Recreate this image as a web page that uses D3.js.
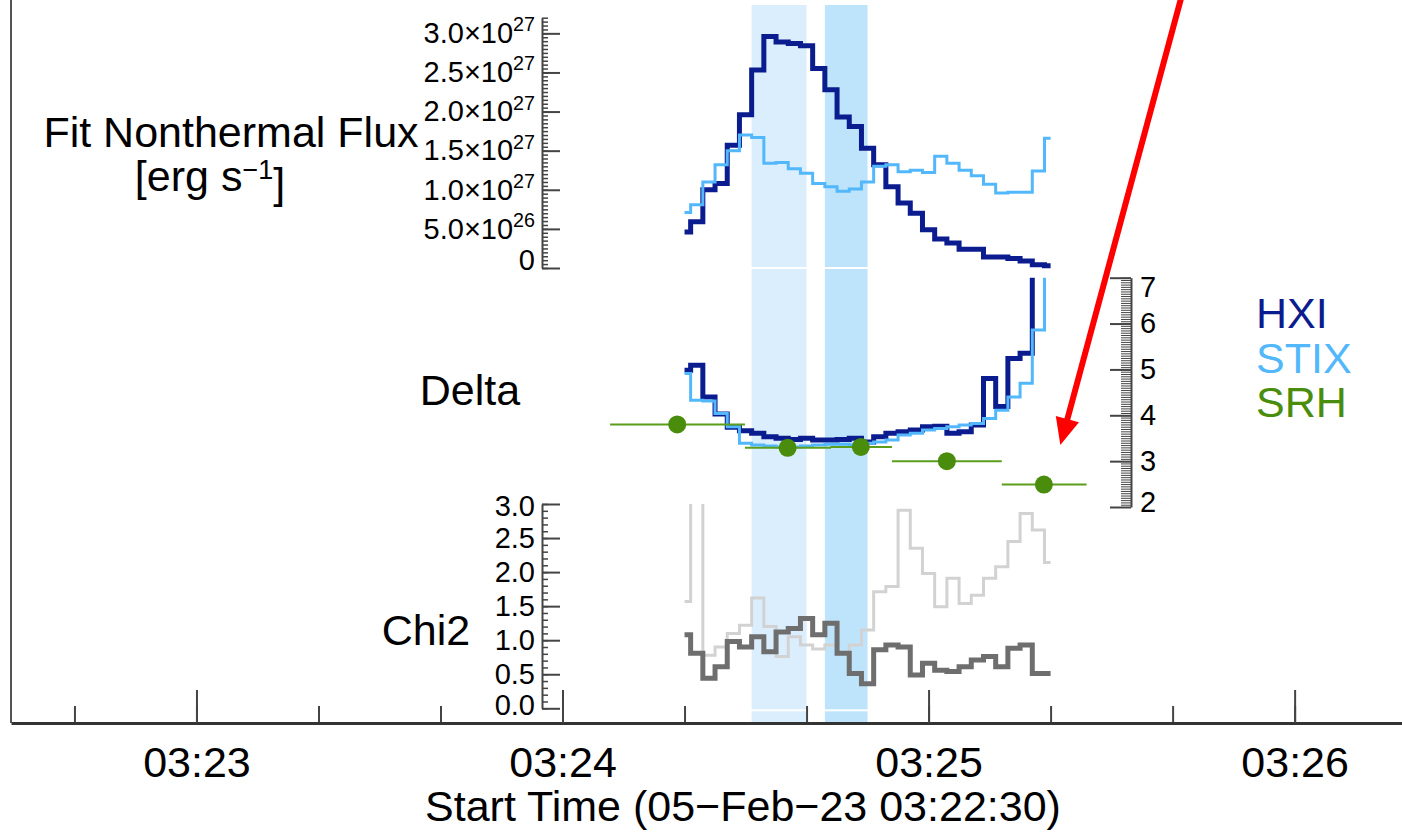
<!DOCTYPE html>
<html><head><meta charset="utf-8">
<script src="https://cdn.jsdelivr.net/npm/d3@7"></script>
<style>
html,body{margin:0;padding:0;background:#fff;}
svg{display:block;font-family:"Liberation Sans",Arial,Helvetica,sans-serif;}
</style></head><body>
<svg id="chart" width="1402" height="832"></svg>
<script>
// ---------------- data ----------------
const startTime = Date.UTC(2023, 1, 5, 3, 22, 30);          // 05-Feb-23 03:22:30
const xTitle = "Start Time (05\u2212Feb\u221223 03:22:30)";
// bin times, seconds after start
const binSec = [110,112,114,116,118,120,122,124,126,128,130,132,134,136,138,140,
                142,144,146,148,150,152,154,156,158,160,162,164,166,168,170];
// nonthermal flux, units of 1e27 erg/s
const hxiFlux  = [0.46,0.59,1.00,1.08,1.57,1.96,2.53,2.96,2.89,2.87,2.84,2.55,2.28,1.93,1.81,
                  1.53,1.32,1.04,0.83,0.70,0.49,0.37,0.32,0.24,0.24,0.14,0.14,0.12,0.09,0.04,0.03];
const stixFlux = [0.71,0.81,1.10,1.32,1.50,1.70,1.67,1.34,1.35,1.27,1.21,1.08,1.04,0.98,1.01,
                  1.10,1.30,1.32,1.23,1.25,1.22,1.43,1.34,1.25,1.18,1.07,0.96,0.97,0.97,1.24,1.66];
// spectral index delta
const hxiDelta  = [4.98,5.09,4.40,4.03,3.74,3.66,3.61,3.53,3.50,3.47,3.50,3.46,3.46,3.47,3.50,
                   3.42,3.53,3.61,3.64,3.68,3.75,3.76,3.61,3.64,3.79,4.80,4.19,5.24,5.35,7.60,7.80];
const stixDelta = [4.91,4.33,4.31,4.04,3.75,3.39,3.35,3.33,3.31,3.31,3.33,3.35,3.37,3.37,3.35,
                   3.39,3.42,3.46,3.57,3.61,3.68,3.71,3.75,3.79,3.82,3.93,4.11,4.40,4.70,5.86,7.80];
// chi2
const hxiChi  = [1.08,0.81,0.44,0.61,0.98,0.90,1.05,0.83,1.12,1.17,1.32,1.08,1.25,0.81,0.51,
                 0.36,0.86,0.93,0.90,0.49,0.66,0.56,0.54,0.61,0.71,0.76,0.61,0.88,0.93,0.51,0.51];
const stixChi = [1.57,3.50,0.78,0.90,1.10,1.22,1.62,1.20,0.76,1.05,0.93,0.87,0.93,0.81,0.93,
                 1.15,1.71,1.79,2.91,2.35,1.98,1.49,1.91,1.54,1.66,1.91,2.08,2.45,2.86,2.62,2.14];
// SRH delta points with time error bars (seconds after start)
const srhSec   = [108.8, 126.9, 138.9, 153.0, 168.9];
const srhSecLo = [97.8, 119.9, 133.9, 144.0, 162.0];
const srhSecHi = [119.9, 134.0, 144.0, 162.0, 175.9];
const srhDelta = [3.80, 3.29, 3.31, 3.00, 2.49];
// highlighted intervals (seconds after start)
const bandStart = [121, 133];
const bandEnd   = [130, 140];
// axis ticks
const fluxTicks = [0, 0.5, 1.0, 1.5, 2.0, 2.5, 3.0];
const fluxTickText = ["0", "5.0\u00d710^26", "1.0\u00d710^27", "1.5\u00d710^27", "2.0\u00d710^27", "2.5\u00d710^27", "3.0\u00d710^27"];
const deltaTicks = [2, 3, 4, 5, 6, 7];
const chiTicks = [0, 0.5, 1.0, 1.5, 2.0, 2.5, 3.0];
const legendNames = ["HXI", "STIX", "SRH"];
// arrow annotation (time s, delta value)
const arrowTail = [191.4, 13.1];
const arrowTip  = [171.6, 3.35];

// ---------------- styles ----------------
const C = {hxi:"#0b1c8f", stix:"#52b8fb", srh:"#4a8c0c", hxiChi:"#6e6e6e", stixChi:"#d2d2d2",
           band1:"#dbeefd", band2:"#bee4fb", axis:"#444", red:"#ff0000"};
const svg = d3.select("#chart");
const sec = s => new Date(startTime + s*1000);

// ---------------- scales ----------------
const x = d3.scaleUtc().domain([sec(-0.4), sec(227.6)]).range([11, 1402]);
const yFlux  = d3.scaleLinear().domain([0, 3.2]).range([268, 17.7]);
const yDelta = d3.scaleLinear().domain([2, 7]).range([507, 277.7]);
const yChi   = d3.scaleLinear().domain([0, 3]).range([708.3, 504]);
const axisY = 723, plotTop = 5;
const xAxisLeft = x.range()[0];
const yAxisX = 542, deltaAxisX = 1131;

// ---------------- bands ----------------
const bandSegs = [[plotTop, yFlux(0)-1], [yFlux(0)+1, yChi(0)+1], [yChi(0)+3, axisY]];
bandStart.forEach((b, k) => {
  bandSegs.forEach(([y0, y1]) => {
    svg.append("rect").attr("x", x(sec(b))).attr("width", x(sec(bandEnd[k])) - x(sec(b)))
      .attr("y", y0).attr("height", y1 - y0).attr("fill", k === 0 ? C.band1 : C.band2);
  });
});

// ---------------- clip paths ----------------
const defs = svg.append("defs");
defs.append("clipPath").attr("id","clipDelta").append("rect")
  .attr("x",0).attr("width",1402).attr("y",yDelta(7)).attr("height",yDelta(2)-yDelta(7));
defs.append("clipPath").attr("id","clipChi").append("rect")
  .attr("x",0).attr("width",1402).attr("y",yChi(3)).attr("height",yChi(0)-yChi(3));

// ---------------- axes helpers ----------------
function styleAxis(g, fs) {
  g.attr("font-size", fs).attr("font-family", '"Liberation Sans",Arial,Helvetica,sans-serif');
  g.selectAll("path.domain").attr("stroke", C.axis).attr("stroke-width", 2);
  g.selectAll(".tick line").attr("stroke", C.axis).attr("stroke-width", 2);
  g.selectAll(".tick text").attr("fill", "#000");
}
function minor(g, w) {
  g.select("path.domain").remove();
  g.selectAll(".tick line").attr("stroke", C.axis).attr("stroke-width", w);
}
function shiftEnds(g, scale, topShift, botShift) {
  const [d0, d1] = scale.domain();
  g.selectAll(".tick").filter(d => Math.abs(d - d1) < 1e-9).select("text")
    .attr("transform", `translate(0,${topShift})`);
  g.selectAll(".tick").filter(d => Math.abs(d - d0) < 1e-9).select("text")
    .attr("transform", `translate(0,${-botShift})`);
}

// flux axis
const gFm = svg.append("g").attr("transform", `translate(${yAxisX},0)`)
  .call(d3.axisLeft(yFlux).tickValues(d3.range(0, 3.2001, 0.05)).tickSize(-6).tickFormat(""));
minor(gFm, 1.5);
const gF = svg.append("g").attr("transform", `translate(${yAxisX},0)`)
  .call(d3.axisLeft(yFlux).tickValues(fluxTicks).tickSize(-18).tickSizeOuter(0).tickPadding(7));
styleAxis(gF, 29);
gF.selectAll(".tick text").each(function(d, i) {
  const [m, e] = fluxTickText[i].split("^");
  const t = d3.select(this); t.text(null);
  t.append("tspan").text(m);
  if (e) t.append("tspan").attr("dy", "-0.6em").attr("font-size", "0.68em").text(e);
});
shiftEnds(gF, yFlux, 0, 8);

// delta axis
const gDm = svg.append("g").attr("transform", `translate(${deltaAxisX},0)`)
  .call(d3.axisRight(yDelta).tickValues(d3.range(2, 7.001, 0.05)).tickSize(-10).tickFormat(""));
minor(gDm, 1);
const gD = svg.append("g").attr("transform", `translate(${deltaAxisX},0)`)
  .call(d3.axisRight(yDelta).tickValues(deltaTicks).tickSize(-21).tickSizeOuter(0).tickPadding(9).tickFormat(d3.format("d")));
styleAxis(gD, 29);
shiftEnds(gD, yDelta, 10, 5);

// chi axis
const gCm = svg.append("g").attr("transform", `translate(${yAxisX},0)`)
  .call(d3.axisLeft(yChi).tickValues(d3.range(0, 3.001, 0.1)).tickSize(-6).tickFormat(""));
minor(gCm, 1.5);
const gC = svg.append("g").attr("transform", `translate(${yAxisX},0)`)
  .call(d3.axisLeft(yChi).tickValues(chiTicks).tickSize(-18).tickSizeOuter(0).tickPadding(7).tickFormat(d3.format(".1f")));
styleAxis(gC, 29);
shiftEnds(gC, yChi, 2, 3);

// x axis
const gXm = svg.append("g").attr("transform", `translate(0,${axisY})`)
  .call(d3.axisBottom(x).ticks(d3.utcSecond.every(20)).tickSize(-17).tickFormat(""));
minor(gXm, 2);
const gX = svg.append("g").attr("transform", `translate(0,${axisY})`)
  .call(d3.axisBottom(x).ticks(d3.utcMinute.every(1)).tickSize(-33).tickSizeOuter(0).tickPadding(23).tickFormat(d3.utcFormat("%H:%M")));
styleAxis(gX, 43);
gX.select("path.domain").attr("stroke", "#333").attr("stroke-width", 3);
// left frame line
svg.append("line").attr("x1", xAxisLeft).attr("x2", xAxisLeft).attr("y1", 0).attr("y2", axisY)
  .attr("stroke", "#555").attr("stroke-width", 2);

// ---------------- titles ----------------
const T = (txt, xx, yy, anchor, size, color) => svg.append("text").attr("x", xx).attr("y", yy)
  .attr("text-anchor", anchor).attr("font-size", size).attr("fill", color || "#000").text(txt);
T("Fit Nonthermal Flux", 231, 147, "middle", 43);
const unit = svg.append("text").attr("x", 210).attr("y", 191).attr("text-anchor", "middle").attr("font-size", 43);
unit.append("tspan").text("[erg s");
unit.append("tspan").attr("dy", "-0.45em").attr("font-size", 27).text("\u22121");
unit.append("tspan").attr("dy", "0.45em").text("]");
T("Delta", 470, 405, "middle", 43);
T("Chi2", 426, 645, "middle", 43);
T(xTitle, 743, 821, "middle", 43);
const legColors = [C.hxi, C.stix, C.srh];
legendNames.forEach((n, i) => T(n, 1256, 328 + i*44.5, "start", 43, legColors[i]));

// ---------------- series ----------------
const stepLine = (ys) => d3.line().curve(d3.curveStep).x((d, i) => x(sec(binSec[i]))).y(d => ys(d));
const addLine = (data, ys, color, w, clip) => {
  const p = svg.append("path").datum(data).attr("d", stepLine(ys)).attr("fill", "none")
    .attr("stroke", color).attr("stroke-width", w).attr("stroke-linejoin", "miter").attr("stroke-linecap", "butt");
  if (clip) p.attr("clip-path", `url(#${clip})`);
};
addLine(hxiFlux, yFlux, C.hxi, 5);
addLine(stixFlux, yFlux, C.stix, 3);
addLine(hxiDelta, yDelta, C.hxi, 5, "clipDelta");
addLine(stixDelta, yDelta, C.stix, 3, "clipDelta");
addLine(stixChi, yChi, C.stixChi, 3, "clipChi");
addLine(hxiChi, yChi, C.hxiChi, 5, "clipChi");

// SRH
const srh = svg.append("g");
srhSec.forEach((s, i) => {
  srh.append("line").attr("x1", x(sec(srhSecLo[i]))).attr("x2", x(sec(srhSecHi[i])))
    .attr("y1", yDelta(srhDelta[i])).attr("y2", yDelta(srhDelta[i]))
    .attr("stroke", "#5b9e1c").attr("stroke-width", 2);
});
srhSec.forEach((s, i) => {
  srh.append("circle").attr("cx", x(sec(s))).attr("cy", yDelta(srhDelta[i])).attr("r", 9).attr("fill", C.srh);
});

// ---------------- arrow ----------------
const ax0 = x(sec(arrowTail[0])), ay0 = yDelta(arrowTail[1]);
const ax1 = x(sec(arrowTip[0])),  ay1 = yDelta(arrowTip[1]);
const L = Math.hypot(ax1 - ax0, ay1 - ay0), ux = (ax1 - ax0) / L, uy = (ay1 - ay0) / L;
const headLen = 27, headW = 12;
const bx = ax1 - ux*headLen, by = ay1 - uy*headLen;
svg.append("line").attr("x1", ax0).attr("y1", ay0).attr("x2", bx + ux*2).attr("y2", by + uy*2)
  .attr("stroke", C.red).attr("stroke-width", 6);
svg.append("polygon").attr("fill", C.red)
  .attr("points", [[ax1, ay1], [bx - uy*headW, by + ux*headW], [bx + uy*headW, by - ux*headW]].map(p => p.join(",")).join(" "));
</script>
</body></html>
